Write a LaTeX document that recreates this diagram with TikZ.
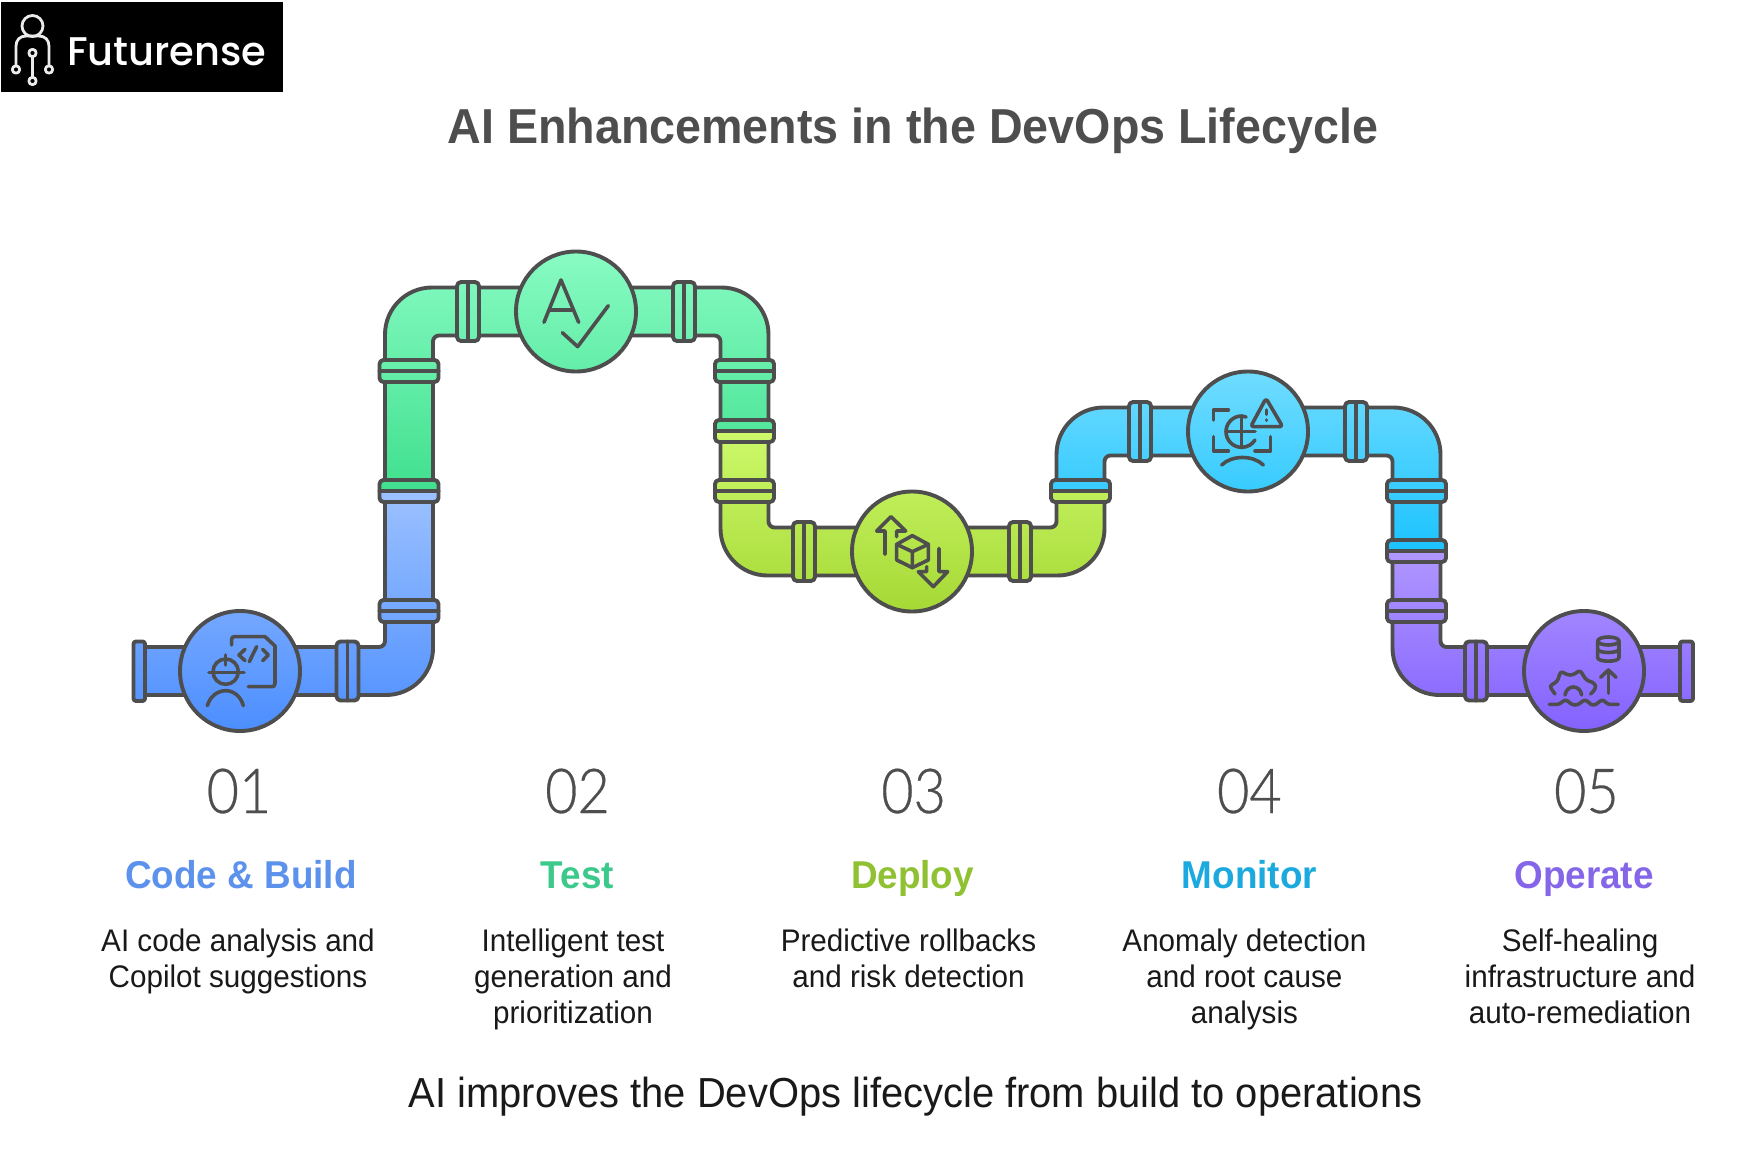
\documentclass[tikz,border=0pt]{standalone}
\usepackage{fontspec}
\setmainfont[FakeStretch=0.95]{Liberation Sans}
\newfontfamily\lightfont[FakeStretch=0.9,FakeBold=0.5]{Lato Light}
\newfontfamily\logofont{Poppins Medium}
\definecolor{ink}{HTML}{4E4E4E}
\definecolor{blueT}{HTML}{9CC1FF}\definecolor{blueB}{HTML}{4C8EFF}
\definecolor{greenT}{HTML}{88FBC3}\definecolor{greenB}{HTML}{40E08E}
\definecolor{limeT}{HTML}{CDF96B}\definecolor{limeB}{HTML}{A5D935}
\definecolor{cyanT}{HTML}{70DCFF}\definecolor{cyanB}{HTML}{1CC3FF}
\definecolor{purpT}{HTML}{BEA9FF}\definecolor{purpB}{HTML}{8362FF}
\definecolor{hblue}{HTML}{5C92EC}\definecolor{hgreen}{HTML}{3DC98C}
\definecolor{hlime}{HTML}{8FC132}\definecolor{hcyan}{HTML}{1CA9DD}
\definecolor{hpurp}{HTML}{8566E8}
\newcommand\shadeBlue{\shade[top color=blueT,bottom color=blueB] (0,491) rectangle (1753,731);}
\newcommand\shadeGreen{\shade[top color=greenT,bottom color=greenB] (0,251) rectangle (1753,491);}
\newcommand\shadeLime{\shade[top color=limeT,bottom color=limeB] (0,431) rectangle (1753,611);}
\newcommand\shadeCyan{\shade[top color=cyanT,bottom color=cyanB] (0,371) rectangle (1753,551);}
\newcommand\shadePurp{\shade[top color=purpT,bottom color=purpB] (0,491) rectangle (1753,731);}
\newcommand\pipepart[1]{\begin{scope}\clip #1;\segshade\end{scope}\draw[pipeline] #1;}
\newcommand\flangecoords[2]{\pgfmathsetmacro\fxa{#1-11}\pgfmathsetmacro\fxb{#1+11}\pgfmathsetmacro\fya{#2-29.5}\pgfmathsetmacro\fyb{#2+29.5}\pgfmathsetmacro\gxa{#1-29.5}\pgfmathsetmacro\gxb{#1+29.5}\pgfmathsetmacro\gya{#2-11}\pgfmathsetmacro\gyb{#2+11}}
\newcommand\flangeH[2]{\flangecoords{#1}{#2}\pipepart{[rounded corners=4pt] (\fxa,\fya) rectangle (\fxb,\fyb)}\draw[pipeline] (#1,\fya) -- (#1,\fyb);}
\newcommand\flangeV[2]{\flangecoords{#1}{#2}\pipepart{[rounded corners=4pt] (\gxa,\gya) rectangle (\gxb,\gyb)}\draw[pipeline] (\gxa,#2) -- (\gxb,#2);}
\newcommand\flangeB[4]{\flangecoords{#1}{#2}%
  \begin{scope}\clip[rounded corners=4pt] (\gxa,\gya) rectangle (\gxb,\gyb);
    \begin{scope}\clip (0,\gya) rectangle (1753,#2);#3\end{scope}
    \begin{scope}\clip (0,#2) rectangle (1753,\gyb);#4\end{scope}
  \end{scope}
  \draw[pipeline,rounded corners=4pt] (\gxa,\gya) rectangle (\gxb,\gyb);
  \draw[pipeline] (\gxa,#2) -- (\gxb,#2);}
\newcommand\meter[2]{\pipepart{(#1,#2) circle (60)}}
\newcommand\firstline{\rule{0pt}{24pt}}
\tikzset{
  pipeline/.style={draw=ink,line width=3.9pt,line join=round,line cap=round},
  iconline/.style={draw=ink,line width=3.6pt,line join=round,line cap=round},
  zoomed/.style={x=0.3333pt,y=-0.3333pt},
  titletext/.style={anchor=base,inner sep=0pt,text=ink,font=\bfseries\fontsize{49.1}{52}\selectfont},
  numtext/.style={anchor=base,inner sep=0pt,text=ink,font=\lightfont\fontsize{62}{66}\selectfont},
  headtext/.style={anchor=base,inner sep=0pt,font=\bfseries\fontsize{38.8}{42}\selectfont},
  desctext/.style={anchor=north,inner sep=0pt,align=center,text=black!90,font=\fontsize{31.2}{36}\selectfont},
  foottext/.style={anchor=base,inner sep=0pt,text=black!90,font=\fontsize{42}{46}\selectfont},
  logotext/.style={anchor=base west,inner sep=0pt,text=white,font=\logofont\fontsize{40}{44}\selectfont},
  logoline/.style={draw=white!92!black,line width=2.8pt,line cap=round,line join=round},
}
\begin{document}
\begin{tikzpicture}[x=1pt,y=-1pt]
\useasboundingbox (0,0) rectangle (1753,1158);
\fill[white] (0,0) rectangle (1753,1158);
% logo
\fill[black] (1,2) rectangle (283,92);
\draw[logoline] (32.5,26) circle (10.5);
\draw[logoline] (16,66) -- (16,46) .. controls (16,40) and (20,36) .. (26,36) -- (39,36) .. controls (45,36) and (49,40) .. (49,46) -- (49,66);
\draw[logoline] (16,69.5) circle (3.7) (49,69.5) circle (3.7) (32.5,53) circle (3.7) (32.5,81) circle (3.7);
\draw[logoline] (32.5,56.7) -- (32.5,77.3);
\node[logotext] (logo) at (67,66) {Futurense};
% title
\node[titletext] (title) at (912.8,143.5) {AI Enhancements in the DevOps Lifecycle};
% BLUE
\let\segshade\shadeBlue
\pipepart{(145,647) -- (379,647) .. controls (382.3,647) and (385,644.3) .. (385,641) -- (385,491) -- (433,491) -- (433,648) .. controls (433,674) and (412,695) .. (386,695) -- (145,695) -- cycle}
\pipepart{[rounded corners=2.5pt] (133.5,641.5) rectangle (145,701)}
\flangeH{347.5}{671}\flangeV{409}{611}
\meter{240}{671}
% GREEN
\let\segshade\shadeGreen
\pipepart{(385,491) -- (385,334.5) .. controls (385,308.5) and (406,287.5) .. (432,287.5) -- (721.5,287.5) .. controls (747.5,287.5) and (768.5,308.5) .. (768.5,334.5) -- (768.5,431) -- (720.5,431) -- (720.5,341.5) .. controls (720.5,338.2) and (717.8,335.5) .. (714.5,335.5) -- (439,335.5) .. controls (435.7,335.5) and (433,338.2) .. (433,341.5) -- (433,491) -- cycle}
\flangeH{468}{311.5}\flangeH{684}{311.5}\flangeV{409}{371}\flangeV{744.5}{371}
\meter{576}{311.5}
\flangeB{409}{491}{\shadeGreen}{\shadeBlue}
% LIME
\let\segshade\shadeLime
\pipepart{(720.5,431) -- (720.5,528.5) .. controls (720.5,554.5) and (741.5,575.5) .. (767.5,575.5) -- (1057.5,575.5) .. controls (1083.5,575.5) and (1104.5,554.5) .. (1104.5,528.5) -- (1104.5,491) -- (1056.5,491) -- (1056.5,521.5) .. controls (1056.5,524.8) and (1053.8,527.5) .. (1050.5,527.5) -- (774.5,527.5) .. controls (771.2,527.5) and (768.5,524.8) .. (768.5,521.5) -- (768.5,431) -- cycle}
\flangeV{744.5}{491}\flangeH{804}{551.5}\flangeH{1020}{551.5}
\meter{912}{551.5}
\flangeB{744.5}{431}{\shadeGreen}{\shadeLime}
% CYAN
\let\segshade\shadeCyan
\pipepart{(1056.5,491) -- (1056.5,454.5) .. controls (1056.5,428.5) and (1077.5,407.5) .. (1103.5,407.5) -- (1393.5,407.5) .. controls (1419.5,407.5) and (1440.5,428.5) .. (1440.5,454.5) -- (1440.5,551) -- (1392.5,551) -- (1392.5,461.5) .. controls (1392.5,458.2) and (1389.8,455.5) .. (1386.5,455.5) -- (1110.5,455.5) .. controls (1107.2,455.5) and (1104.5,458.2) .. (1104.5,461.5) -- (1104.5,491) -- cycle}
\flangeH{1140}{431.5}\flangeH{1356}{431.5}\flangeV{1416.5}{491}
\meter{1248}{431.5}
\flangeB{1080.5}{491}{\shadeCyan}{\shadeLime}
% PURPLE
\let\segshade\shadePurp
\pipepart{(1392.5,551) -- (1392.5,648) .. controls (1392.5,674) and (1413.5,695) .. (1439.5,695) -- (1680,695) -- (1680,647) -- (1446.5,647) .. controls (1443.2,647) and (1440.5,644.3) .. (1440.5,641) -- (1440.5,551) -- cycle}
\pipepart{[rounded corners=2.5pt] (1680,641.5) rectangle (1693,701)}
\flangeV{1416.5}{611}\flangeH{1476}{671}
\meter{1584}{671}
\flangeB{1416.5}{551}{\shadeCyan}{\shadePurp}
% ICON 1
\begin{scope}[shift={(190,620)},zoomed]
\draw[iconline] (125,75) -- (125,58) .. controls (125,53) and (128,50) .. (133,50) -- (225,50) -- (255,78) -- (255,190) .. controls (255,197) and (252,200) .. (246,200) -- (175,200);
\draw[iconline] (165,88) -- (147,105) -- (165,122);
\draw[iconline] (200,80) -- (178,125);
\draw[iconline] (218,88) -- (235,105) -- (218,122);
\draw[iconline] (107,155) circle (38);
\draw[iconline] (57,158) -- (162,158);
\draw[iconline] (107,105) -- (107,135);
\draw[iconline] (52,257) .. controls (60,228) and (85,212) .. (107,212) .. controls (130,212) and (152,228) .. (160,257);
\end{scope}
% ICON 2
\begin{scope}[shift={(480,230)},zoomed]
\draw[iconline] (192,277) -- (243,150) -- (296,277);
\draw[iconline] (210,240) -- (280,240);
\draw[iconline] (247,308) -- (293,350) -- (385,227);
\end{scope}
% ICON 3
\begin{scope}[shift={(865,505)},zoomed]
\draw[iconline] (60,148) -- (60,78) -- (35,78) -- (78,35) -- (122,78) -- (95,78) -- (95,95);
\draw[iconline] (142,92) -- (190,118) -- (190,165) -- (142,188) -- (95,165) -- (95,118) -- cycle;
\draw[iconline] (95,118) -- (142,140) -- (190,118) (142,140) -- (142,188);
\draw[iconline] (222,130) -- (222,200) -- (248,200) -- (205,245) -- (160,200) -- (185,200) -- (185,185);
\end{scope}
% ICON 4
\begin{scope}[shift={(1200,385)},zoomed]
\draw[iconline,rounded corners=3pt] (198,40) -- (248,125) -- (152,125) -- cycle;
\draw[iconline] (200,75) -- (200,88);
\draw[iconline] (200,105) -- (200,106);
\draw[iconline] (40,105) -- (40,75) -- (85,75);
\draw[iconline] (40,155) -- (40,198) -- (85,198);
\draw[iconline] (212,155) -- (212,198) -- (165,198);
\draw[iconline] (138,96) .. controls (134,94) and (130,93) .. (125,93) .. controls (99,93) and (78,114) .. (78,140) .. controls (78,166) and (99,187) .. (125,187) .. controls (142,187) and (157,178) .. (165,165);
\draw[iconline] (125,93) -- (125,187);
\draw[iconline] (78,140) -- (165,140);
\draw[iconline] (65,240) .. controls (95,210) and (160,210) .. (190,240);
\end{scope}
% ICON 5
\begin{scope}[shift={(1540,625)},zoomed]
\draw[iconline] (205,48) ellipse (32 and 12);
\draw[iconline] (173,48) -- (173,98) .. controls (173,112) and (237,112) .. (237,98) -- (237,48);
\draw[iconline] (173,72) .. controls (173,86) and (237,86) .. (237,72);
\draw[iconline] (205,205) -- (205,135);
\draw[iconline] (182,157) -- (205,135) -- (228,157);
\draw[iconline,rounded corners=3pt] (45,207) -- (28,183) -- (52,170) -- (62,138) -- (82,150) -- (100,150) -- (120,135) -- (138,165) -- (165,175) -- (168,190) -- (152,207);
\draw[iconline] (75,210) .. controls (80,178) and (120,178) .. (125,210);
\draw[iconline] (28,238) -- (52,238) .. controls (62,238) and (68,226) .. (77,226) .. controls (86,226) and (90,240) .. (105,240) .. controls (120,240) and (125,226) .. (135,226) .. controls (145,226) and (148,240) .. (160,240) .. controls (172,240) and (178,226) .. (187,226) .. controls (196,226) and (198,238) .. (210,238) -- (235,238);
\end{scope}
% numbers
\node[numtext] (n1) at (239,813) {01};
\node[numtext] (n2) at (577.5,813) {02};
\node[numtext] (n3) at (913.6,813) {03};
\node[numtext] (n4) at (1249.4,813) {04};
\node[numtext] (n5) at (1586.4,813) {05};
% headings
\node[headtext,text=hblue] (h1) at (241,888.3) {Code \& Build};
\node[headtext,text=hgreen] (h2) at (577.3,888.3) {Test};
\node[headtext,text=hlime] (h3) at (912.5,888.3) {Deploy};
\node[headtext,text=hcyan] (h4) at (1249.4,888.3) {Monitor};
\node[headtext,text=hpurp] (h5) at (1584,888.3) {Operate};
% descriptions
\node[desctext] (d1) at (238,927.5) {\firstline AI code analysis and\\Copilot suggestions};
\node[desctext] (d2) at (573,927.5) {\firstline Intelligent test\\generation and\\prioritization};
\node[desctext] (d3) at (908.5,927.5) {\firstline Predictive rollbacks\\and risk detection};
\node[desctext] (d4) at (1244.4,927.5) {\firstline Anomaly detection\\and root cause\\analysis};
\node[desctext] (d5) at (1580,927.5) {\firstline Self-healing\\infrastructure and\\auto-remediation};
% footer
\node[foottext] (foot) at (915.6,1107.5) {AI improves the DevOps lifecycle from build to operations};
\end{tikzpicture}
\end{document}
